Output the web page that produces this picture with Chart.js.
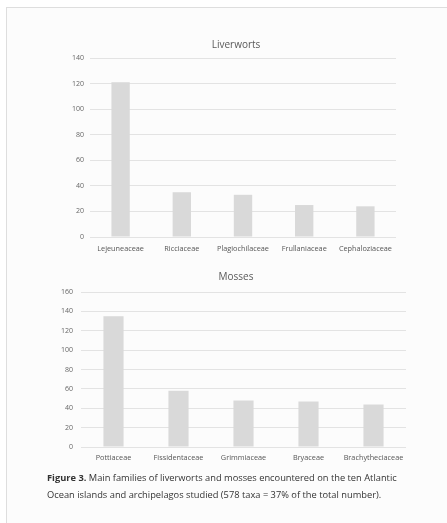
<!DOCTYPE html>
<html>
<head>
<meta charset="utf-8">
<script src="https://cdn.jsdelivr.net/npm/chart.js@4/dist/chart.umd.min.js"></script>
<style>
  html, body { margin: 0; padding: 0; background: #ffffff; }
  body { width: 447px; height: 523px; position: relative; overflow: hidden; }
  #page {
    position: absolute; left: 6px; top: 7px; width: 441px; height: 516px;
    background: #fcfcfc; border-left: 1px solid #dedede; border-top: 1px solid #dedede;
  }
  .box { position: absolute; left: 0; width: 447px; }
  #liver { top: 30px; height: 230px; }
  #moss { top: 260px; height: 210px; }
  .ctitle {
    position: absolute; left: 136px; width: 200px; text-align: center;
    font-family: "Open Sans", sans-serif; font-size: 10px; line-height: 12px;
    color: #595959;
  }
  #t1 { top: 38px; }
  #t2 { top: 270px; }
  #caption {
    position: absolute; left: 47px; top: 469px; width: 400px;
    font-family: "Open Sans", sans-serif; font-size: 9.3px; line-height: 17px;
    color: #333333; white-space: nowrap;
  }
  #caption b { font-weight: 700; }
</style>
</head>
<body>
<div id="page"></div>
<div class="box" id="liver"><canvas id="c1" width="447" height="230"></canvas></div>
<div class="box" id="moss"><canvas id="c2" width="447" height="210"></canvas></div>
<div class="ctitle" id="t1">Liverworts</div>
<div class="ctitle" id="t2">Mosses</div>
<div id="caption"><b>Figure 3.</b> Main families of liverworts and mosses encountered on the ten Atlantic<br>Ocean islands and archipelagos studied (578 taxa = 37% of the total number).</div>
<script>
// Liverwort families and number of taxa
const liverFamilies = ["Lejeuneaceae", "Ricciaceae", "Plagiochilaceae", "Frullaniaceae", "Cephaloziaceae"];
const liverCounts = [121, 35, 33, 25, 24];
const liverTicks = [0, 20, 40, 60, 80, 100, 120, 140];

// Moss families and number of taxa
const mossFamilies = ["Pottiaceae", "Fissidentaceae", "Grimmiaceae", "Bryaceae", "Brachytheciaceae"];
const mossCounts = [135, 58, 48, 47, 44];
const mossTicks = [0, 20, 40, 60, 80, 100, 120, 140, 160];

const BAR = "#d9d9d9";
const GRID = "#e3e3e3";
const TEXT = "#666666";
const FONT = "'Open Sans', 'Liberation Sans', sans-serif";

function makeChart(id, labels, values, ticks, geo) {
  return new Chart(document.getElementById(id), {
    type: "bar",
    data: {
      labels: labels,
      datasets: [{
        data: values,
        backgroundColor: BAR,
        borderWidth: 0,
        barPercentage: geo.bar,
        categoryPercentage: 1
      }]
    },
    options: {
      responsive: false,
      animation: false,
      events: [],
      layout: { padding: { left: 0, right: geo.right, top: geo.top, bottom: 0 } },
      plugins: {
        legend: { display: false },
        tooltip: { enabled: false },
        title: { display: false }
      },
      scales: {
        x: {
          grid: { display: false, drawTicks: false },
          border: { display: false },
          ticks: {
            color: "#555555",
            font: { family: FONT, size: 7.3 },
            padding: geo.xPad,
            maxRotation: 0,
            autoSkip: false
          },
          afterFit: s => { s.height = geo.xHeight; }
        },
        y: {
          min: 0,
          max: ticks[ticks.length - 1],
          grid: { color: GRID, lineWidth: 1, drawTicks: false },
          border: { display: false },
          afterBuildTicks: s => { s.ticks = ticks.map(v => ({ value: v })); },
          ticks: {
            color: TEXT,
            font: { family: FONT, size: 7 },
            padding: geo.yPad
          },
          afterFit: s => { s.width = geo.yWidth; }
        }
      }
    }
  });
}

makeChart("c1", liverFamilies, liverCounts, liverTicks,
  { bar: 0.3, right: 51, top: 28, xPad: 8, xHeight: 23, yPad: 6, yWidth: 90 });

makeChart("c2", mossFamilies, mossCounts, mossTicks,
  { bar: 0.31, right: 41, top: 32, xPad: 7, xHeight: 23, yPad: 8, yWidth: 81 });
</script>
</body>
</html>
